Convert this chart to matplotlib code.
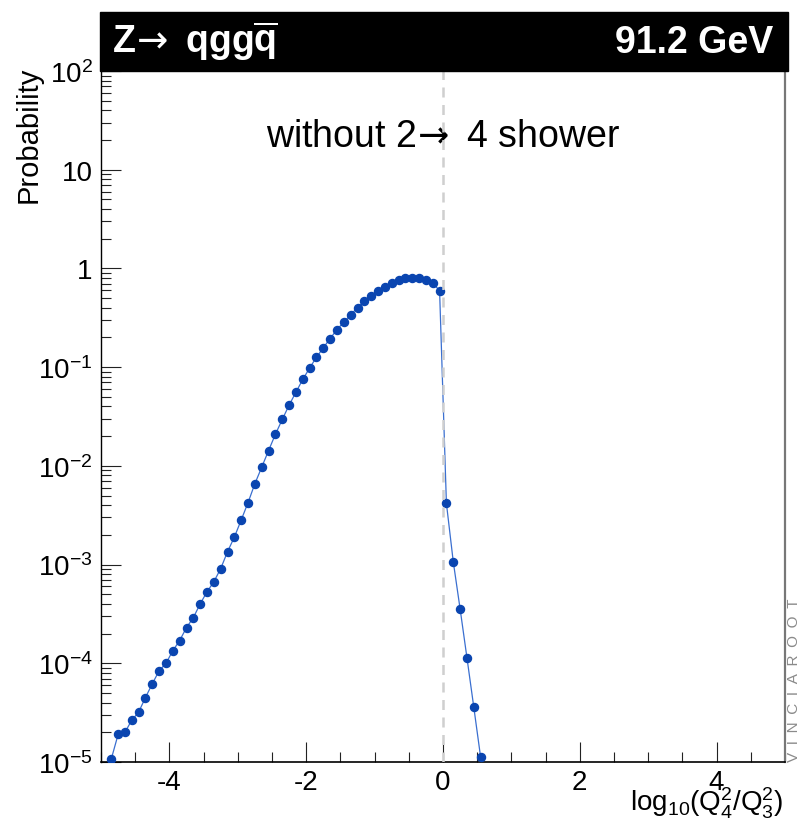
import numpy as np
import matplotlib
matplotlib.use("Agg")
import matplotlib.pyplot as plt
from matplotlib.patches import Rectangle
from matplotlib.text import Annotation
from matplotlib.ticker import LogLocator, MultipleLocator, NullFormatter

plt.rcParams["font.family"] = ["Liberation Sans", "DejaVu Sans"]
plt.rcParams["mathtext.fontset"] = "custom"
plt.rcParams["mathtext.rm"] = "Liberation Sans"
plt.rcParams["mathtext.it"] = "Liberation Sans:italic"
plt.rcParams["mathtext.bf"] = "Liberation Sans:bold"

# bin centres of log10(Q4^2/Q3^2) and the probability
log_ratio = [-4.85, -4.75, -4.65, -4.55, -4.45, -4.35, -4.25, -4.15, -4.05, -3.95,
             -3.85, -3.75, -3.65, -3.55, -3.45, -3.35, -3.25, -3.15, -3.05, -2.95,
             -2.85, -2.75, -2.65, -2.55, -2.45, -2.35, -2.25, -2.15, -2.05, -1.95,
             -1.85, -1.75, -1.65, -1.55, -1.45, -1.35, -1.25, -1.15, -1.05, -0.95,
             -0.85, -0.75, -0.65, -0.55, -0.45, -0.35, -0.25, -0.15, -0.05,
             0.05, 0.15, 0.25, 0.35, 0.45, 0.55]

probability = [1.07e-5, 1.9e-5, 2.0e-5, 2.65e-5, 3.2e-5, 4.5e-5, 6.2e-5, 8.4e-5, 1.0e-4, 1.34e-4,
               1.7e-4, 2.3e-4, 2.9e-4, 4.0e-4, 5.3e-4, 6.7e-4, 9.1e-4, 1.35e-3, 1.9e-3, 2.83e-3,
               4.25e-3, 6.6e-3, 9.7e-3, 1.43e-2, 2.09e-2, 2.95e-2, 4.12e-2, 5.58e-2, 7.5e-2, 9.8e-2,
               0.126, 0.157, 0.195, 0.240, 0.286, 0.340, 0.401, 0.465, 0.526, 0.590,
               0.655, 0.718, 0.771, 0.794, 0.80, 0.794, 0.771, 0.711, 0.596,
               4.16e-3, 1.07e-3, 3.56e-4, 1.14e-4, 3.6e-5, 1.12e-5]

x_ticks = [-4, -2, 0, 2, 4]
y_ticks = [1e-5, 1e-4, 1e-3, 1e-2, 1e-1, 1, 10, 1e2]
y_labels = ["$10^{-5}$", "$10^{-4}$", "$10^{-3}$", "$10^{-2}$", "$10^{-1}$", "1", "10", "$10^{2}$"]


def plotProbability(ax):

    """Probability of the 2->4 branching scale"""

    ax.plot(log_ratio, probability, lw = 0.9, color = "#3a6fd0",
            marker = "o", ms = 5.8, mfc = "#0a45b0", mec = "#0a45b0",
            zorder = 3)

    ax.axvline(0, color = "#cfcfcf", lw = 1.8, dashes = (4, 3), zorder = 4)

    ax.set(xlim = [-5, 5], ylim = [1e-5, 1e2], yscale = "log")

    ax.set_xticks(x_ticks)
    ax.set_xticklabels([str(t) for t in x_ticks])
    ax.xaxis.set_minor_locator(MultipleLocator(0.5))

    ax.set_yticks(y_ticks)
    ax.set_yticklabels(y_labels)
    ax.yaxis.set_minor_locator(LogLocator(base = 10, subs = np.arange(2, 10)))
    ax.yaxis.set_minor_formatter(NullFormatter())

    ax.tick_params(which = "both", direction = "in", labelsize = 20,
                   top = False, right = False, width = 0.8, color = "#222222")
    ax.tick_params(which = "major", length = 14.5)
    ax.tick_params(which = "minor", length = 7.5)
    ax.tick_params(axis = "y", pad = 6)
    ax.tick_params(axis = "x", pad = 5)

    ax.spines["top"].set_visible(False)
    ax.spines["left"].set(lw = 1.0, color = "k")
    ax.spines["bottom"].set(lw = 1.2, color = "k")
    ax.spines["right"].set(lw = 1.6, color = "#777777")

    # arrow taken from DejaVu so that it is as long as in the original
    ax.text(0, 0.906, r"without 2$\!\rightarrow$ 4 shower",
            transform = ax.get_xaxis_transform(), math_fontfamily = "dejavusans",
            ha = "center", va = "center", fontsize = 27)


fig = plt.figure(figsize = (8.01, 8.29), dpi = 100)
ax = fig.add_axes([101 / 801, 66 / 829, 684 / 801, 691 / 829])

plotProbability(ax)

# header bar
fig.patches.append(Rectangle((100 / 801, 757 / 829), 688 / 801, 59 / 829,
                             transform = fig.transFigure, color = "k", zorder = 5))

head = fig.text(112 / 801, 786 / 829, r"Z$\!\rightarrow$ qgg",
                color = "w", fontsize = 27, fontweight = "bold", math_fontfamily = "dejavusans",
                ha = "left", va = "center", zorder = 6)
qbar = Annotation(r"$\mathbf{\overline{q}}$", xy = (1, 0), xycoords = head,
                  color = "w", fontsize = 27, ha = "left", va = "bottom",
                  annotation_clip = False, zorder = 7)
fig.add_artist(qbar)

fig.text(773 / 801, 786 / 829, "91.2 GeV",
         color = "w", fontsize = 27, fontweight = "bold", ha = "right", va = "center", zorder = 6)

fig.text(29 / 801, 762 / 829, "Probability", rotation = 90,
         fontsize = 21, ha = "center", va = "top")

fig.text(783 / 801, 26 / 829, r"$\mathrm{log_{10}(Q_{4}^{2}/Q_{3}^{2})}$",
         fontsize = 20, ha = "right", va = "center")

fig.text(794 / 801, 67 / 829, "\u2002".join("VINCIAROOT"), rotation = 90,
         fontsize = 11, color = "#8a8a8a", ha = "center", va = "bottom")

fig.savefig("out.png", dpi = 100)
